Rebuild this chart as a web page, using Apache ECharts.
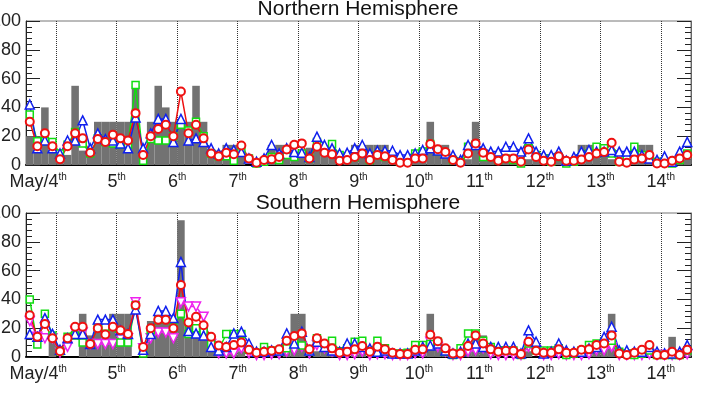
<!doctype html>
<html>
<head>
<meta charset="utf-8">
<script src="https://cdn.jsdelivr.net/npm/echarts@6/dist/echarts.min.js"></script>
<style>
  html, body { margin: 0; padding: 0; background: #fff; }
  #chart { width: 705px; height: 393px; }
</style>
</head>
<body>
<div id="chart"></div>
<script>
// 3-hourly values, first bin starts May 3 12:00 UT
const start = 3.5
const step = 0.125
const days = [4, 5, 6, 7, 8, 9, 10, 11, 12, 13, 14]

// Northern Hemisphere
const northGray = [20,20,40,10,7,7,55,10,10,30, 30,30,30,30,55,4,30,55,40,30,
  30,30,55,30,10,10,14,14,7,0, 0,0,14,14,14,7,7,12,12,7, 7,0,4,14,14,14,14,14,7,4,
  4,4,4,30,14,14,4,4,4,30, 4,4,4,4,4,4,4,4,4,4, 4,4,4,14,14,14,14,4,4,4, 14,14,14,4,4,4,4,4]
const northGreen = [35,16.5,16.5,16,8,14,23,15,8,18.5, 16,15,14,14,55.6,3,18,17,17,20,
  28,24,30,20,8,6,6,3,9,4.6, 1,2.3,5.6,3.5,7,5.6,8,4.6,16,9.3, 14.6,6.9,4.6,5.6,9.3,3.5,6.9,5.6,4.6,2.3,
  2.3,8,9.3,14.6,9.3,8,3.5,2.3,12.7,14, 5.6,5.6,3.5,4.6,3.5,1,11.6,7,4.6,2.3, 5.6,1,2.3,5.6,8,12.7,11.6,8,2.3,4.6,
  12.7,7,5.6,2.3,1.6,1,3.5,8]
const northBlue = [42,11.6,17,11.6,8,17,17,31,11.6,22, 18,17,15,11.6,33,11.6,22,32,32,16,
  32,17,18.5,16,11.6,8,11.6,10.4,9,4.6, 2.3,4.6,13.9,8,11.6,9,8.5,5.6,19.7,13.9, 11.6,8,8.5,11.6,13.9,8,9.9,9.9,9.9,6.9,
  6.9,8,10.4,11.6,10,8,6.9,3.5,13.9,13.9, 11.6,9.3,9.3,12.7,12.7,9.3,18.5,9.3,6.9,6.9, 9.3,3,5.6,9.3,10.4,9.3,9.3,10.4,9.3,9.3,
  9.3,6.9,4.6,3.5,6,2.3,9.3,16]
const northRed = [30,13,22,13,4,13,22,18.5,8.5,18, 16,21,18.5,17,36,7,20,25,28,20,
  51,22,28,18.5,8,6,8.5,7.5,13.5,4.6, 1.6,3.5,4,5.6,10.8,14,15,4.6,12.7,8.5, 7.4,3,3.5,5.6,8,3.5,7,6,3.5,1.6,
  1.6,4.6,4.6,14.6,11,9,3.5,1.6,8,15, 8.5,5.6,3,4.6,4.6,2.3,10.8,5.6,3,2.3, 6,3,3,3.9,5.6,8,9,15.5,2.3,1.6,
  3.9,4.6,7,1,1,3,4.6,7]

// Southern Hemisphere
const southGray = [0,0,0,16,0,0,0,30,15,20, 20,30,30,30,0,0,25,25,25,20,
  95,22,22,22,10,4,4,4,4,0, 0,0,0,0,4,30,30,0,4,4, 4,0,0,4,4,0,4,4,0,0,
  0,0,4,30,12,4,0,0,4,15, 15,4,0,0,0,0,4,0,0,0, 0,0,0,0,4,4,14,30,4,0, 0,0,4,0,0,14,0,4]
const southGreen = [40,8.6,30,15,4,14,15,10,9,21, 21,21,10,10,36,2.5,18.5,26,26,21,
  30,16,20,18,9,5,16,16,16,5, 3,7,4.6,4,6,11,8,4,13,9, 11.3,4,6,10.6,11.3,4.6,11.3,6,2.5,2.5,
  3,8.3,8.3,9,10.6,3.7,1.4,6,16.4,16.4, 11.3,7,4.6,4.6,4.6,1.4,9.4,4.6,4.6,4.6, 6,1.4,2.5,4.6,8.3,9.4,10.6,11.3,3.7,2.5,
  1.4,2.5,4.6,1.4,1.4,1.4,1.4,4.6]
const southMagenta = [25,14,13,13,3,7,18,17,9,9, 9,9,13,13,38,6,13,17,17,13,
  38,35,35,28,9,2.5,2.5,2.5,6,2.5, 1.4,1.4,2,2,3.7,4.6,7,2.5,8.3,6, 3.7,1.4,1.4,2,3.7,1.4,2,2,1.4,1.4,
  1.4,2.5,2.5,10.6,7,3.7,1.4,1.4,3.7,4.6, 6,2,1.4,1.4,1.4,1.4,7,4.6,1.4,1.4, 2,1.4,1.4,1.4,2,4.6,4.6,7,1.4,1.4,
  1.4,1.4,2,1.4,1.4,1.4,1.4,2]
const southBlue = [16,14,27,16,5,13,16,16,9,26, 26,26,18.5,16,33,5,16,32,32,27,
  66,18,16.4,15,7,4.6,7,16.4,17.6,9.4, 3.7,3.7,4.6,4.6,16.4,9.4,17.6,4.6,10.6,7, 4.6,3.7,9.4,9.4,7,6,3.7,4.6,2.5,2.5,
  2.5,4.6,7,8,9.4,4.6,2.5,3.7,9.4,9.4, 7,7,7,7,7,2.5,18.5,10.6,2.5,3.7, 9.4,4.6,3.7,3.7,6,7,14,21,4.6,4.6,
  3.7,3.7,7,3.7,2.5,2.5,3.7,8.3]
const southRed = [29,14,23,13,4,13,21,21,9,20, 15.6,21,18.5,16,36,7,20,25.8,25.8,20,
  50,24,28,22,14,8,7,8.3,10,5, 3,3.7,4.4,5.3,11.3,14.6,16.4,5.3,13,9.4, 6,3,3.7,5.3,7.6,3.7,7.2,5.3,3,2,
  2,5,5.3,15.5,11,6,2.5,2.5,7.6,15, 9.4,5.3,3.7,4.4,4.4,2,10.6,4.4,3,3, 5.3,3,3,5,5.3,8.3,9.4,15,2.5,1.4,
  3,5,8.3,1.4,1.4,3.7,1.4,5]

const pts = arr => arr.map((v, i) => [start + (i + 0.5) * step, v])

const font = 'Liberation Sans, Arial, sans-serif'

function xAxisFor(g) {
  return {
    type: 'value', gridIndex: g, min: 3.5, max: 14.5, splitNumber: 11,
    axisLine: { onZero: false, lineStyle: { color: '#000', width: 2 } },
    axisTick: { show: false },
    splitLine: { show: true, lineStyle: { type: 'dotted', color: '#333', width: 1 } },
    axisLabel: {
      margin: 7, color: '#222', fontFamily: font, fontSize: 18,
      formatter: v => {
        if (days.indexOf(v) < 0) return ''
        if (v === 4) return '{n|May/4}{f|th}'
        return '{n|' + v + '}{s|th}'
      },
      rich: {
        n: { fontSize: 18, fontFamily: font, color: '#222', lineHeight: 20 },
        s: { fontSize: 10, fontFamily: font, color: '#222', verticalAlign: 'top', lineHeight: 12 },
        f: { fontSize: 10, fontFamily: font, color: '#222', verticalAlign: 'top', lineHeight: 12, padding: [0, 36, 0, 0] }
      }
    }
  }
}

function yAxisFor(g, side) {
  return {
    type: 'value', gridIndex: g, position: side, min: 0, max: 100, interval: 20,
    axisLine: { show: true, lineStyle: { color: side === 'left' ? '#222' : '#666', width: 1 } },
    axisTick: { show: true, inside: true, length: 14, lineStyle: { color: '#222' } },
    minorTick: { show: true, splitNumber: 5, length: 6, lineStyle: { color: '#222' } },
    splitLine: { show: false },
    axisLabel: { show: side === 'left', margin: 5, color: '#222', fontFamily: font, fontSize: 18 }
  }
}

function lineSeries(arr, g, color, symbol, size, rotate, bw) {
  return {
    type: 'line', xAxisIndex: g, yAxisIndex: g * 2, data: pts(arr),
    symbol: symbol, symbolSize: size, symbolRotate: rotate, showAllSymbol: true,
    lineStyle: { color: color, width: 1.5 },
    itemStyle: { color: '#fff', borderColor: color, borderWidth: bw },
    animation: false, z: 3
  }
}

function barSeries(arr, g) {
  return {
    type: 'bar', xAxisIndex: g, yAxisIndex: g * 2, data: pts(arr),
    barWidth: '100%', itemStyle: { color: '#727272' }, animation: false, z: 2
  }
}

const chart = echarts.init(document.getElementById('chart'))
chart.setOption({
  backgroundColor: '#fff',
  animation: false,
  title: [
    { text: 'Northern Hemisphere', left: 358, top: -1, textAlign: 'center', padding: 0,
      textStyle: { fontFamily: font, fontSize: 21, fontWeight: 'normal', color: '#111' } },
    { text: 'Southern Hemisphere', left: 358, top: 193, textAlign: 'center', padding: 0,
      textStyle: { fontFamily: font, fontSize: 21, fontWeight: 'normal', color: '#111' } }
  ],
  grid: [
    { left: 26, right: 14, top: 21, height: 144, show: true, borderColor: '#777', borderWidth: 1,
      outerBoundsMode: 'none', containLabel: false },
    { left: 26, right: 14, top: 213, height: 144, show: true, borderColor: '#777', borderWidth: 1,
      outerBoundsMode: 'none', containLabel: false }
  ],
  xAxis: [xAxisFor(0), xAxisFor(1)],
  yAxis: [yAxisFor(0, 'left'), yAxisFor(0, 'right'), yAxisFor(1, 'left'), yAxisFor(1, 'right')],
  series: [
    barSeries(northGray, 0),
    lineSeries(northGreen, 0, '#11dd11', 'rect', 7, 0, 1.5),
    lineSeries(northBlue, 0, '#1020ee', 'triangle', 9, 0, 1.5),
    lineSeries(northRed, 0, '#ee1111', 'circle', 8, 0, 2),
    barSeries(southGray, 1),
    lineSeries(southMagenta, 1, '#ee22ee', 'triangle', 9, 180, 1.5),
    lineSeries(southGreen, 1, '#11dd11', 'rect', 7, 0, 1.5),
    lineSeries(southBlue, 1, '#1020ee', 'triangle', 9, 0, 1.5),
    lineSeries(southRed, 1, '#ee1111', 'circle', 8, 0, 2)
  ]
})
</script>
</body>
</html>
